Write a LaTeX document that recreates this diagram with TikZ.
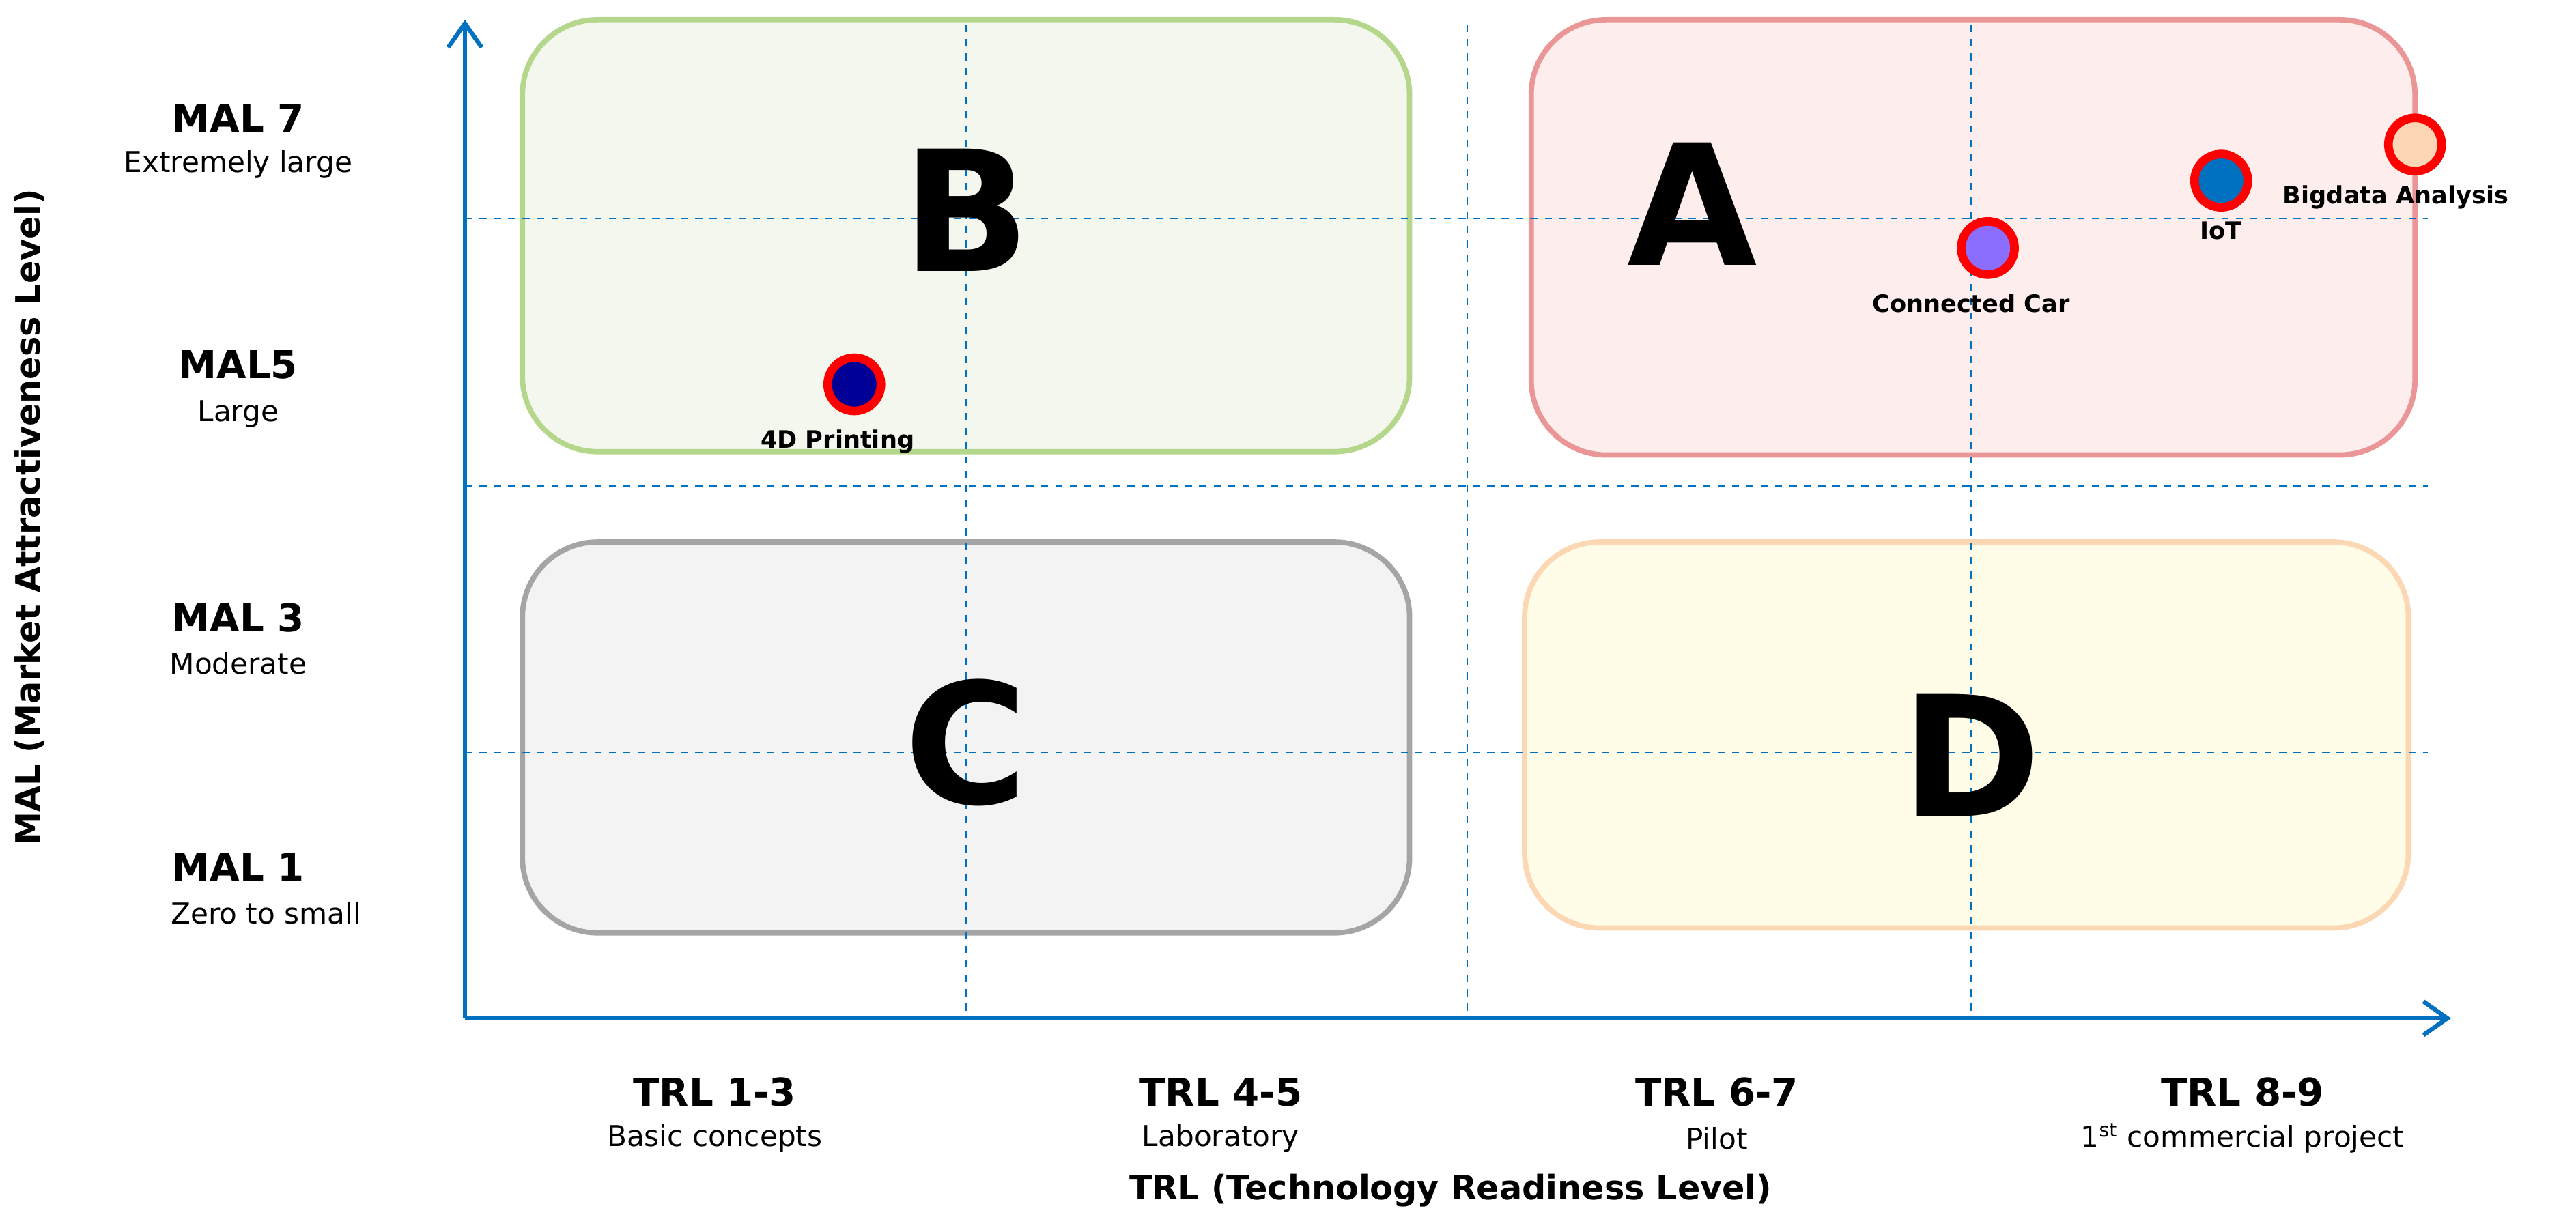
\documentclass[tikz,border=0pt]{standalone}
\usepackage{fontspec}
\setmainfont{DejaVu Sans}
\setsansfont{DejaVu Sans}
\usetikzlibrary{positioning,arrows.meta}
\definecolor{axisblue}{RGB}{0,112,192}
\definecolor{dotred}{RGB}{255,0,0}
\begin{document}
\begin{tikzpicture}
[x=0.02406cm, y=-0.02406cm,
every node/.style={inner sep=0pt, font=\sffamily},
zone/.style={rounded corners=1.1cm, line width=2.2pt},
letter/.style={font=\fontsize{70}{80}\selectfont\bfseries},
grid/.style={axisblue, dashed, line width=0.7pt},
mal/.style={font=\fontsize{16}{20}\selectfont\bfseries},
sub/.style={font=\fontsize{12}{15}\selectfont},
dot/.style={circle, draw=dotred, line width=3.6pt, minimum size=0.78cm},
dotlabel/.style={font=\fontsize{10}{12}\selectfont\bfseries}]

\useasboundingbox (0,0) rectangle (1568,748.5);

% quadrants
\draw[zone, draw={rgb,255:red,180;green,215;blue,140}, fill={rgb,255:red,243;green,247;blue,237}] (318,12) rectangle (858,275);
\draw[zone, draw={rgb,255:red,235;green,150;blue,150}, fill={rgb,255:red,253;green,237;blue,236}] (932,12) rectangle (1470,277);
\draw[zone, draw={rgb,255:red,165;green,165;blue,165}, fill={rgb,255:red,243;green,243;blue,243}] (318,330) rectangle (858,568);
\draw[zone, draw={rgb,255:red,252;green,215;blue,180}, fill={rgb,255:red,255;green,253;blue,231}] (928,330) rectangle (1466,565);

% grid
\foreach \gx in {588,893,1200}
  \draw[grid] (\gx,15) -- (\gx,620);
\foreach \gy in {133,296,458}
  \draw[grid] (283,\gy) -- (1478,\gy);

\node[letter] (B) at (588,128) {B};
\node[letter] (A) at (1030,124) {A};
\node[letter] (C) at (588,452) {C};
\node[letter] (D) at (1200,460) {D};

% axes
\coordinate (O) at (283,620);
\coordinate (ytop) at (283,12);
\coordinate (xend) at (1492,620);
\draw[axisblue, line width=1.8pt, -{Straight Barb[length=10pt,width=14pt]}] (O) -- (ytop);
\draw[axisblue, line width=1.8pt, -{Straight Barb[length=10pt,width=14pt]}] (O) -- (xend);

% technologies
\node[dot, fill={rgb,255:red,0;green,0;blue,150}] (print) at (520,234) {};
\node[dotlabel, below=6pt of print, xshift=-7pt] (printl) {4D Printing};
\node[dot, fill={rgb,255:red,140;green,110;blue,255}] (car) at (1210,151) {};
\node[dotlabel, below=6pt of car, xshift=-7pt] (carl) {Connected Car};
\node[dot, fill={rgb,255:red,0;green,112;blue,192}] (iot) at (1352,110) {};
\node[dotlabel, below=4pt of iot] (iotl) {IoT};
\node[dot, fill={rgb,255:red,252;green,213;blue,180}] (big) at (1470,88) {};
\node[dotlabel, below=4pt of big, xshift=-8pt] (bigl) {Bigdata Analysis};

% MAL labels
\node[mal] (m7) at (145,72) {MAL 7};
\node[sub] (m7s) at (145,100) {Extremely large};
\node[mal] (m5) at (145,222) {MAL5};
\node[sub] (m5s) at (145,252) {Large};
\node[mal] (m3) at (145,376) {MAL 3};
\node[sub] (m3s) at (145,404) {Moderate};
\node[mal] (m1) at (145,528) {MAL 1};
\node[sub] (m1s) at (162,556) {Zero to small};
\node[rotate=90, font=\fontsize{14}{18}\selectfont\bfseries] (ytitle) at (18,315) {MAL (Market Attractiveness Level)};

% TRL labels
\node[mal] (t1) at (435,665) {TRL 1-3};
\node[sub] (t1s) at (435,693) {Basic concepts};
\node[mal] (t4) at (743,665) {TRL 4-5};
\node[sub] (t4s) at (743,693) {Laboratory};
\node[mal] (t6) at (1045,665) {TRL 6-7};
\node[sub] (t6s) at (1045,693) {Pilot};
\node[mal] (t8) at (1365,665) {TRL 8-9};
\node[sub] (t8s) at (1365,693) {1\textsuperscript{st} commercial project};
\node[font=\fontsize{14}{18}\selectfont\bfseries] (xtitle) at (883,725) {TRL (Technology Readiness Level)};
\end{tikzpicture}
\end{document}
